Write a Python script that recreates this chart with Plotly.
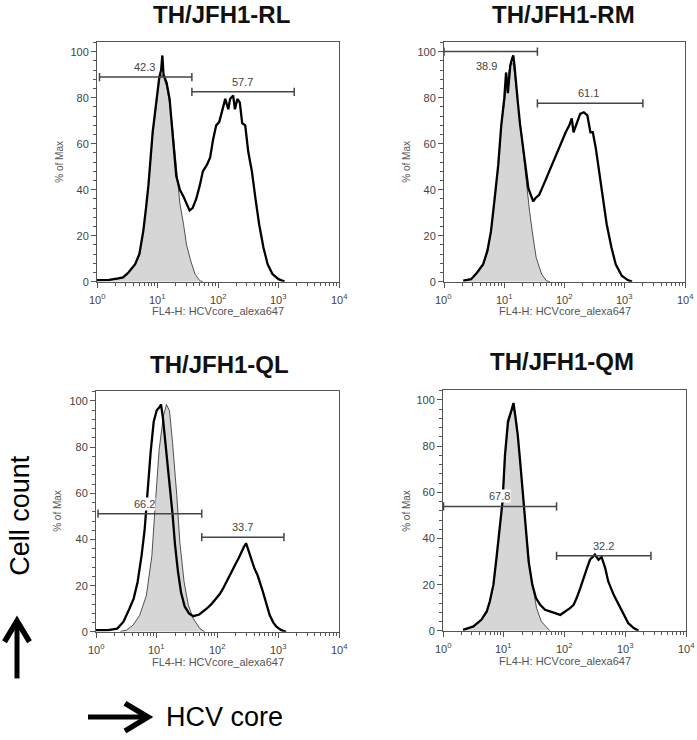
import plotly.graph_objects as go

W, H = 697, 740

# ---------------- data (log10 fluorescence, % of max) ----------------
titles = ["TH/JFH1-RL", "TH/JFH1-RM", "TH/JFH1-QL", "TH/JFH1-QM"]

rl_black_L = [0.0, 0.2, 0.35, 0.43, 0.52, 0.63, 0.7, 0.765, 0.81, 0.85, 0.92, 1.0, 1.03, 1.06, 1.08, 1.1,
              1.15, 1.2, 1.24, 1.27, 1.31, 1.37, 1.43, 1.48, 1.53, 1.58, 1.64, 1.7, 1.75, 1.82, 1.87, 1.92,
              1.97, 2.02, 2.07, 2.12, 2.17, 2.2, 2.25, 2.28, 2.32, 2.36, 2.4, 2.45, 2.5, 2.56, 2.62, 2.68,
              2.75, 2.82, 2.9, 3.0, 3.1]
rl_black_v = [0.7, 0.8, 1.4, 1.9, 4, 7.6, 12, 22, 32, 42, 65, 84, 89, 92, 98.4, 90,
              86.6, 79.5, 69, 58, 46, 40, 37, 34, 31, 32, 36, 42, 48, 51, 54, 62,
              68, 69.4, 75, 79.5, 75, 79.5, 81, 75, 79.5, 78, 69, 68, 56.5, 48, 36, 25,
              15, 7.6, 3.3, 1.1, 0.1]
rl_gray_L = [0.0, 0.2, 0.35, 0.43, 0.52, 0.63, 0.7, 0.765, 0.81, 0.85, 0.92, 1.0, 1.03, 1.07, 1.1,
             1.15, 1.205, 1.25, 1.29, 1.33, 1.37, 1.43, 1.48, 1.55, 1.62, 1.70, 1.75]
rl_gray_v = [0.5, 0.7, 1.2, 1.7, 3.8, 7.3, 11.6, 21.5, 31.5, 41.5, 64, 83, 88, 90, 89,
             85, 77, 67, 55, 44, 34, 25, 16, 9, 3.3, 0.4, 0]

rm_black_L = [0.32, 0.45, 0.55, 0.65, 0.72, 0.78, 0.84, 0.9, 0.95, 1.0, 1.03, 1.06, 1.08, 1.1, 1.13, 1.15,
              1.17, 1.19, 1.22, 1.26, 1.3, 1.35, 1.4, 1.44, 1.48, 1.52, 1.58, 1.65, 1.72, 1.8, 1.88, 1.95,
              2.02, 2.08, 2.12, 2.15, 2.2, 2.26, 2.32, 2.38, 2.43, 2.47, 2.52, 2.58, 2.64, 2.7, 2.78, 2.85,
              2.95, 3.05, 3.12]
rm_black_v = [0.5, 1.1, 4, 7.6, 13.4, 22, 36, 50.7, 68, 79.5, 91, 82, 88, 94, 97, 98.4,
              94, 86.6, 79.5, 69, 61, 49, 40.7, 37.8, 35, 36.4, 37.8, 42, 46.4, 52, 56.5, 61,
              65, 68, 71, 65, 69, 73, 73.7, 72.3, 65, 65, 58, 46.4, 36.4, 25, 14.8, 7.6,
              2.6, 0.7, 0]
rm_gray_L = [0.32, 0.45, 0.55, 0.65, 0.72, 0.78, 0.84, 0.9, 0.95, 1.0, 1.05, 1.1, 1.15, 1.2, 1.26, 1.31,
             1.37, 1.42, 1.48, 1.53, 1.62, 1.70, 1.76]
rm_gray_v = [0.4, 1.0, 3.8, 7.3, 13, 21.5, 35.5, 50, 67, 79, 88, 94, 95, 84, 69, 58,
             44, 30.6, 19, 10.5, 3.3, 0.4, 0]

ql_black_L = [0.0, 0.2, 0.35, 0.45, 0.55, 0.62, 0.685, 0.75, 0.8, 0.84, 0.87, 0.9, 0.95, 1.0, 1.05, 1.07,
              1.1, 1.14, 1.18, 1.22, 1.26, 1.3, 1.35, 1.4, 1.46, 1.53, 1.6, 1.7, 1.78, 1.82, 1.9, 1.98,
              2.04, 2.09, 2.15, 2.2, 2.26, 2.31, 2.35, 2.39, 2.43, 2.47, 2.5, 2.53, 2.57, 2.61, 2.66,
              2.70, 2.74, 2.78, 2.82, 2.86, 2.92, 2.97, 3.05, 3.13]
ql_black_v = [0.7, 0.7, 1.4, 4.3, 10, 14.4, 21.6, 33, 44, 58, 66, 78, 91, 96, 97.5, 98.5,
              93, 83, 72, 63, 51, 38, 26, 17, 11, 8, 6.8, 7.5, 9, 10, 12, 14.4,
              16.5, 18.7, 21.6, 24.5, 27.5, 30, 32, 34.5, 36.5, 38.4, 36, 34.5, 31, 27.3, 24.5,
              21.6, 18, 14.4, 10.5, 7.2, 4, 2.2, 0.7, 0]
ql_gray_L = [0.4, 0.5, 0.61, 0.72, 0.83, 0.92, 0.97, 1.04, 1.11, 1.16, 1.21, 1.26, 1.33, 1.38, 1.45, 1.52,
             1.6, 1.71, 1.79]
ql_gray_v = [0.2, 0.7, 2.9, 7.2, 15.8, 33, 53, 79, 93.5, 98.5, 95.7, 82, 59, 38.8, 21.6, 11.5,
             5.8, 1.4, 0]

qm_black_L = [0.33, 0.5, 0.63, 0.72, 0.77, 0.83, 0.88, 0.94, 0.98, 1.02, 1.07, 1.13, 1.16, 1.18, 1.23, 1.27,
              1.31, 1.36, 1.41, 1.47, 1.53, 1.6, 1.68, 1.76, 1.84, 1.93, 2.01, 2.09, 2.15, 2.2, 2.26, 2.31,
              2.37, 2.42, 2.5, 2.56, 2.61, 2.67, 2.72, 2.81, 2.89, 2.97, 3.05, 3.14, 3.22]
qm_black_v = [0.4, 1.9, 4.8, 8.4, 12.7, 20, 31.5, 46, 56, 76, 90.8, 95.8, 98.7, 95, 85, 73.4,
              60.4, 44.5, 30, 20, 14.2, 11.3, 9.1, 8.4, 7.7, 6.9, 8.4, 9.8, 11.3, 14.2, 18.5, 22.8,
              27.2, 30.8, 33, 30.8, 32, 27.2, 21.4, 15.6, 11.3, 6.9, 3.3, 1.2, 0]
qm_gray_L = [0.33, 0.5, 0.63, 0.72, 0.77, 0.83, 0.88, 0.94, 0.98, 1.02, 1.07, 1.13, 1.16, 1.21, 1.27, 1.32,
             1.38, 1.43, 1.49, 1.54, 1.62, 1.71, 1.76]
qm_gray_v = [0.3, 1.7, 4.5, 8, 12.3, 19.5, 31, 45.5, 55.5, 75, 89, 95, 96.5, 90.8, 72, 57,
             40, 27, 17, 9.8, 4, 1.2, 0]

# gates: (low, high, y, label, label log-x, label y)
rl_gates = [(1.1, 37, 89, "42.3", 0.79, 93.2), (37, 1820, 82.6, "57.7", 2.40, 86.8)]
rm_gates = [(1.0, 35.5, 100.1, "38.9", 0.70, 93.6), (35.5, 2000, 77.6, "61.1", 2.40, 82.0)]
ql_gates = [(1.08, 55, 51.2, "66.2", 0.80, 55.4), (55, 1240, 41.0, "33.7", 2.41, 45.4)]
qm_gates = [(1.02, 74, 53.9, "67.8", 0.935, 58.2), (74, 2650, 32.5, "32.2", 2.64, 36.8)]

x_decades = [0, 1, 2, 3, 4]
x_ticktext = ["10<sup>0</sup>", "10<sup>1</sup>", "10<sup>2</sup>", "10<sup>3</sup>", "10<sup>4</sup>"]
x_title = "FL4-H: HCVcore_alexa647"
y_title = "% of Max"

# ---------------- layout geometry (pixels) ----------------
boxes = [(97, 339, 42, 284), (444, 685, 42, 284), (96, 339, 394, 637), (443, 686, 393, 636)]
title_pos = [(221, 15), (563, 15), (220, 367), (562, 364)]
ytitle_pos = [(60, 163), (407, 163), (58, 515), (407, 515)]
YMAX = 104.4

panels = [
    (rl_black_L, rl_black_v, rl_gray_L, rl_gray_v, rl_gates),
    (rm_black_L, rm_black_v, rm_gray_L, rm_gray_v, rm_gates),
    (ql_black_L, ql_black_v, ql_gray_L, ql_gray_v, ql_gates),
    (qm_black_L, qm_black_v, qm_gray_L, qm_gray_v, qm_gates),
]

FONT = "Liberation Sans, Arial, sans-serif"
AX_COL = "#555555"
TXT_COL = "#444444"

def px(x):
    return x / W

def py(y):
    return 1 - y / H

fig = go.Figure()
annotations = []

for i, (bL, bv, gL, gv, gates) in enumerate(panels):
    n = "" if i == 0 else str(i + 1)
    xa, ya = "x" + n, "y" + n
    fig.add_trace(go.Scatter(x=[10 ** v for v in gL], y=gv, mode="lines", fill="tozeroy",
                             fillcolor="#d6d6d6", line=dict(color="#505050", width=1),
                             xaxis=xa, yaxis=ya, showlegend=False, hoverinfo="skip"))
    fig.add_trace(go.Scatter(x=[10 ** v for v in bL], y=bv, mode="lines",
                             line=dict(color="#000000", width=2.3),
                             xaxis=xa, yaxis=ya, showlegend=False, hoverinfo="skip"))
    gx, gy = [], []
    cap = 1.8
    for lo, hi, g, lab, lx, ly in gates:
        gx += [lo, hi, None, lo, lo, None, hi, hi, None]
        gy += [g, g, None, g - cap, g + cap, None, g - cap, g + cap, None]
        annotations.append(dict(x=lx, y=ly, xref=xa, yref=ya, text=lab, showarrow=False,
                                font=dict(family=FONT, size=11, color=TXT_COL),
                                bgcolor="white", borderpad=0))
    fig.add_trace(go.Scatter(x=gx, y=gy, mode="lines", line=dict(color="#454545", width=1.5),
                             xaxis=xa, yaxis=ya, showlegend=False, hoverinfo="skip"))

    l, r, t, b = boxes[i]
    common = dict(showline=True, linecolor=AX_COL, linewidth=1, mirror=True, showgrid=False,
                  zeroline=False, ticks="outside", tickcolor=AX_COL, ticklen=5, tickwidth=1,
                  tickfont=dict(family=FONT, size=11, color=TXT_COL))
    fig.layout["xaxis" + n] = dict(common, type="log", range=[0, 4], domain=[px(l), px(r)],
                                   anchor=ya, tickmode="linear", tick0=0, dtick=1,
                                   showticklabels=False,
                                   minor=dict(dtick="D1", ticks="outside", ticklen=3,
                                              tickwidth=1, tickcolor=AX_COL, showgrid=False))
    fig.layout["yaxis" + n] = dict(common, range=[0, YMAX], domain=[py(b), py(t)], anchor=xa,
                                   tickmode="linear", tick0=0, dtick=20,
                                   minor=dict(dtick=4, ticks="outside", ticklen=3,
                                              tickwidth=1, tickcolor=AX_COL, showgrid=False))
    # decade tick labels (10^k)
    for k, lab in zip(x_decades, x_ticktext):
        annotations.append(dict(x=k, y=py(b + 17), xref=xa, yref="paper", text=lab, showarrow=False,
                                font=dict(family=FONT, size=11, color=TXT_COL),
                                xanchor="center", yanchor="middle"))

    tx, ty = title_pos[i]
    annotations.append(dict(x=px(tx), y=py(ty), xref="paper", yref="paper", text="<b>" + titles[i] + "</b>",
                            showarrow=False, font=dict(family=FONT, size=24, color="#111111"),
                            xanchor="center", yanchor="middle"))
    annotations.append(dict(x=px((l + r) / 2), y=py(b + 30), xref="paper", yref="paper", text=x_title,
                            showarrow=False, font=dict(family=FONT, size=11, color="#555555"),
                            xanchor="center", yanchor="middle"))
    yx, yy = ytitle_pos[i]
    annotations.append(dict(x=px(yx), y=py(yy), xref="paper", yref="paper", text=y_title,
                            showarrow=False, textangle=-90,
                            font=dict(family=FONT, size=10, color="#555555"),
                            xanchor="center", yanchor="middle"))

annotations.append(dict(x=px(20), y=py(520), xref="paper", yref="paper", text="Cell count",
                        showarrow=False, textangle=-90, font=dict(family=FONT, size=27, color="#000000"),
                        xanchor="center", yanchor="middle"))
annotations.append(dict(x=px(164), y=py(723), xref="paper", yref="paper", text="HCV core",
                        showarrow=False, font=dict(family=FONT, size=27, color="#000000"),
                        xanchor="left", yanchor="middle"))

def seg_path(points):
    return "M " + " L ".join("%.4f,%.4f" % (px(a), py(b)) for a, b in points)

shapes = [
    dict(type="path", xref="paper", yref="paper", path=seg_path([(17, 684), (17, 627)]),
         line=dict(color="black", width=5)),
    dict(type="path", xref="paper", yref="paper", path=seg_path([(4.5, 647), (17, 626), (29.5, 647)]),
         line=dict(color="black", width=5.5)),
    dict(type="path", xref="paper", yref="paper", path=seg_path([(88, 723), (147, 723)]),
         line=dict(color="black", width=5)),
    dict(type="path", xref="paper", yref="paper", path=seg_path([(125, 709), (148, 723), (125, 737)]),
         line=dict(color="black", width=5.5)),
]

fig.update_layout(width=W, height=H, margin=dict(l=0, r=0, t=0, b=0),
                  paper_bgcolor="white", plot_bgcolor="white",
                  annotations=annotations, shapes=shapes, showlegend=False,
                  font=dict(family=FONT))

fig.write_html("out.html", config={"displayModeBar": False},
               post_script="document.body.style.margin='0px';document.body.style.overflow='hidden';")
